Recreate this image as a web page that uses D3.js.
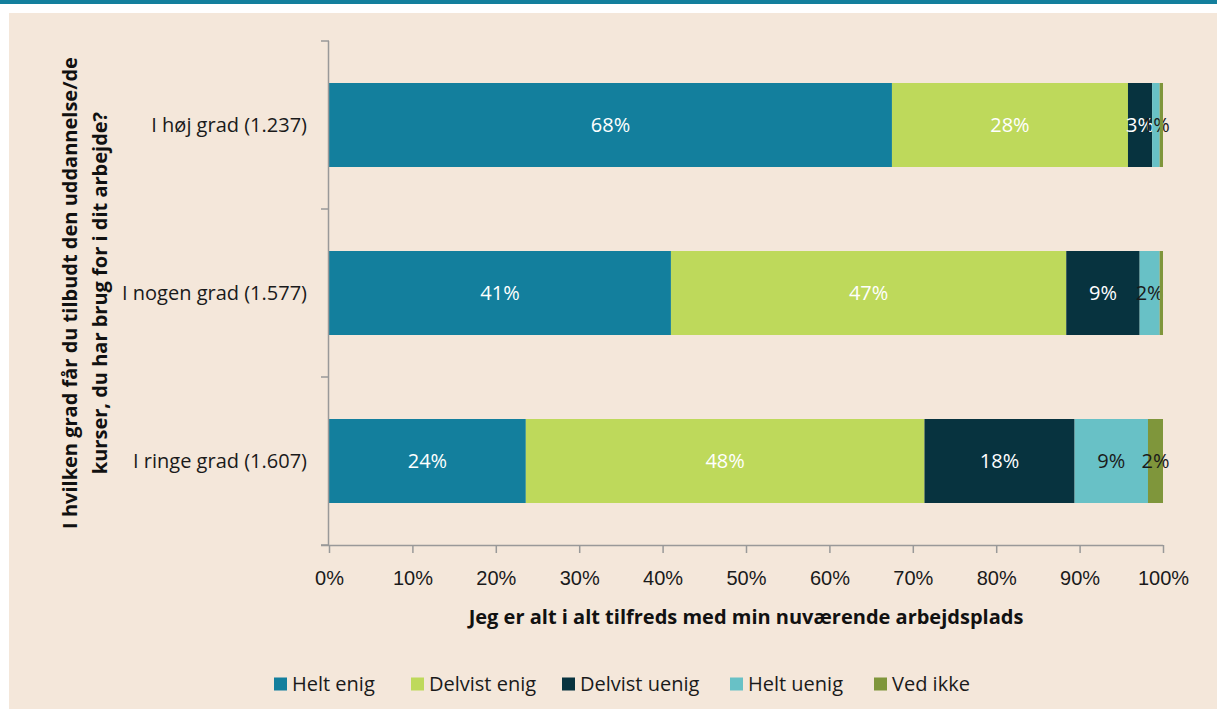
<!DOCTYPE html>
<html>
<head>
<meta charset="utf-8">
<script src="https://cdn.jsdelivr.net/npm/d3@7"></script>
<style>
	body { margin: 0; background: #fff; }
	svg { display: block; font-family: "Segoe UI", "Open Sans", "Noto Sans", sans-serif; }
</style>
</head>
<body>
<div id="chart"></div>
<script>

// categories (top to bottom)
var categories = ["I høj grad (1.237)", "I nogen grad (1.577)", "I ringe grad (1.607)"];

// answer series
var seriesNames = ["Helt enig", "Delvist enig", "Delvist uenig", "Helt uenig", "Ved ikke"];
var seriesColors = ["#137f9d", "#bed95b", "#07333f", "#68c1c6", "#7f963b"];
var labelColors = ["#fff", "#fff", "#fff", "#1a1a1a", "#1a1a1a"];

// shares in percent, one array per series, in category order
var heltEnig = [67.5, 41.0, 23.6];
var delvistEnig = [28.3, 47.4, 47.8];
var delvistUenig = [2.9, 8.8, 18.0];
var heltUenig = [0.9, 2.4, 8.8];
var vedIkke = [0.4, 0.4, 1.8];

var xTicks = [0, 10, 20, 30, 40, 50, 60, 70, 80, 90, 100];

var yTitle = ["I hvilken grad får du tilbudt den uddannelse/de", "kurser, du har brug for i dit arbejde?"];
var xTitle = "Jeg er alt i alt tilfreds med min nuværende arbejdsplads";

var W = 1217, H = 709;
var margin = { top: 41, left: 329, right: 54, bottom: 164 };
var fs = "20px";

var svg = d3.select("#chart").append("svg")
	.attr("width", W)
	.attr("height", H);

// frame: teal band on top, beige panel
svg.append("rect").attr("x", 0).attr("y", 0).attr("width", W).attr("height", 4).attr("fill", "#137f9d");
svg.append("rect").attr("x", 9).attr("y", 13).attr("width", W - 9).attr("height", H - 13).attr("fill", "#f4e7da");

// build stacked rows
var series = [heltEnig, delvistEnig, delvistUenig, heltUenig, vedIkke];
var rows = categories.map(function(c, i){
	var r = { cat: c };
	seriesNames.forEach(function(s, j){ r[s] = series[j][i]; });
	return r;
});
var stacked = d3.stack().keys(seriesNames)(rows);

var xScale = d3.scaleLinear()
	.domain([0, 100])
	.range([margin.left, W - margin.right]);

var yScale = d3.scaleBand()
	.domain(categories)
	.range([margin.top, H - margin.bottom])
	.paddingInner(0.5)
	.paddingOuter(0.25);

var y0 = H - margin.bottom;

// bars
var layers = svg.append("g").selectAll("g")
	.data(stacked).enter()
	.append("g")
		.attr("fill", function(d, i){ return seriesColors[i] });

layers.selectAll("rect")
	.data(function(d){ return d })
	.enter().append("rect")
		.attr("x", function(d){ return xScale(d[0]) })
		.attr("y", function(d){ return yScale(d.data.cat) })
		.attr("width", function(d){ return xScale(d[1]) - xScale(d[0]) })
		.attr("height", yScale.bandwidth());

// value labels (skip anything that rounds below 1%)
layers.each(function(s, i){
	d3.select(this).selectAll("text")
		.data(s.filter(function(d){ return Math.round(d[1] - d[0]) >= 1 }))
		.enter().append("text")
			.attr("x", function(d){ return (xScale(d[0]) + xScale(d[1])) / 2 })
			.attr("y", function(d){ return yScale(d.data.cat) + yScale.bandwidth() / 2 })
			.attr("dy", "0.35em")
			.attr("text-anchor", "middle")
			.attr("fill", labelColors[i])
			.style("font-size", fs)
			.text(function(d){ return Math.round(d[1] - d[0]) + "%" });
});

// y axis: line with ticks at band boundaries
var axisColor = "#999";
var yAxis = svg.append("g");
yAxis.append("line")
	.attr("x1", margin.left - 0.5).attr("x2", margin.left - 0.5)
	.attr("y1", margin.top).attr("y2", y0)
	.attr("stroke", axisColor).attr("stroke-width", 1.5);
d3.range(categories.length + 1).forEach(function(k){
	var yy = margin.top + k * (y0 - margin.top) / categories.length;
	yAxis.append("line")
		.attr("x1", margin.left - 8).attr("x2", margin.left)
		.attr("y1", yy).attr("y2", yy)
		.attr("stroke", axisColor).attr("stroke-width", 1.5);
});
yAxis.selectAll("text.cat")
	.data(categories).enter()
	.append("text")
		.attr("class", "cat")
		.attr("x", margin.left - 22)
		.attr("y", function(d){ return yScale(d) + yScale.bandwidth() / 2 })
		.attr("dy", "0.35em")
		.attr("text-anchor", "end")
		.attr("fill", "#1a1a1a")
		.style("font-size", fs)
		.text(function(d){ return d });

// x axis
var xAxis = svg.append("g")
	.attr("transform", "translate(0," + y0 + ")")
	.call(d3.axisBottom(xScale).tickValues(xTicks).tickSize(8).tickFormat(function(d){ return d + "%" }));
xAxis.select(".domain").attr("stroke", axisColor).attr("stroke-width", 1.5).attr("d", "M" + (margin.left - 8) + ",0.5H" + xScale(100));
xAxis.selectAll(".tick line").attr("stroke", axisColor).attr("stroke-width", 1.5);
xAxis.selectAll(".tick text")
	.attr("fill", "#1a1a1a")
	.attr("dy", "0.35em")
	.attr("y", 33)
	.style("font-size", fs);

// axis titles
svg.append("text")
	.attr("x", (xScale(0) + xScale(100)) / 2)
	.attr("y", 617)
	.attr("dy", "0.35em")
	.attr("text-anchor", "middle")
	.style("font-size", fs)
	.style("font-weight", "bold")
	.attr("fill", "#111")
	.text(xTitle);

var yt = svg.append("text")
	.attr("transform", "translate(77," + ((margin.top + y0) / 2) + ") rotate(-90)")
	.attr("text-anchor", "middle")
	.style("font-size", fs)
	.style("font-weight", "bold")
	.attr("fill", "#111");
yTitle.forEach(function(t, i){
	yt.append("tspan").attr("x", 0).attr("dy", i === 0 ? 0 : 30).text(t);
});

// legend
var legendX = [274, 411, 562, 730, 874];
var legend = svg.append("g").selectAll("g")
	.data(seriesNames).enter()
	.append("g")
		.attr("transform", function(d, i){ return "translate(" + legendX[i] + ",684)" });
legend.append("rect")
	.attr("x", 0).attr("y", -6.5)
	.attr("width", 13).attr("height", 13)
	.attr("fill", function(d, i){ return seriesColors[i] });
legend.append("text")
	.attr("x", 18)
	.attr("dy", "0.35em")
	.style("font-size", fs)
	.attr("fill", "#1a1a1a")
	.text(function(d){ return d });

</script>
</body>
</html>
